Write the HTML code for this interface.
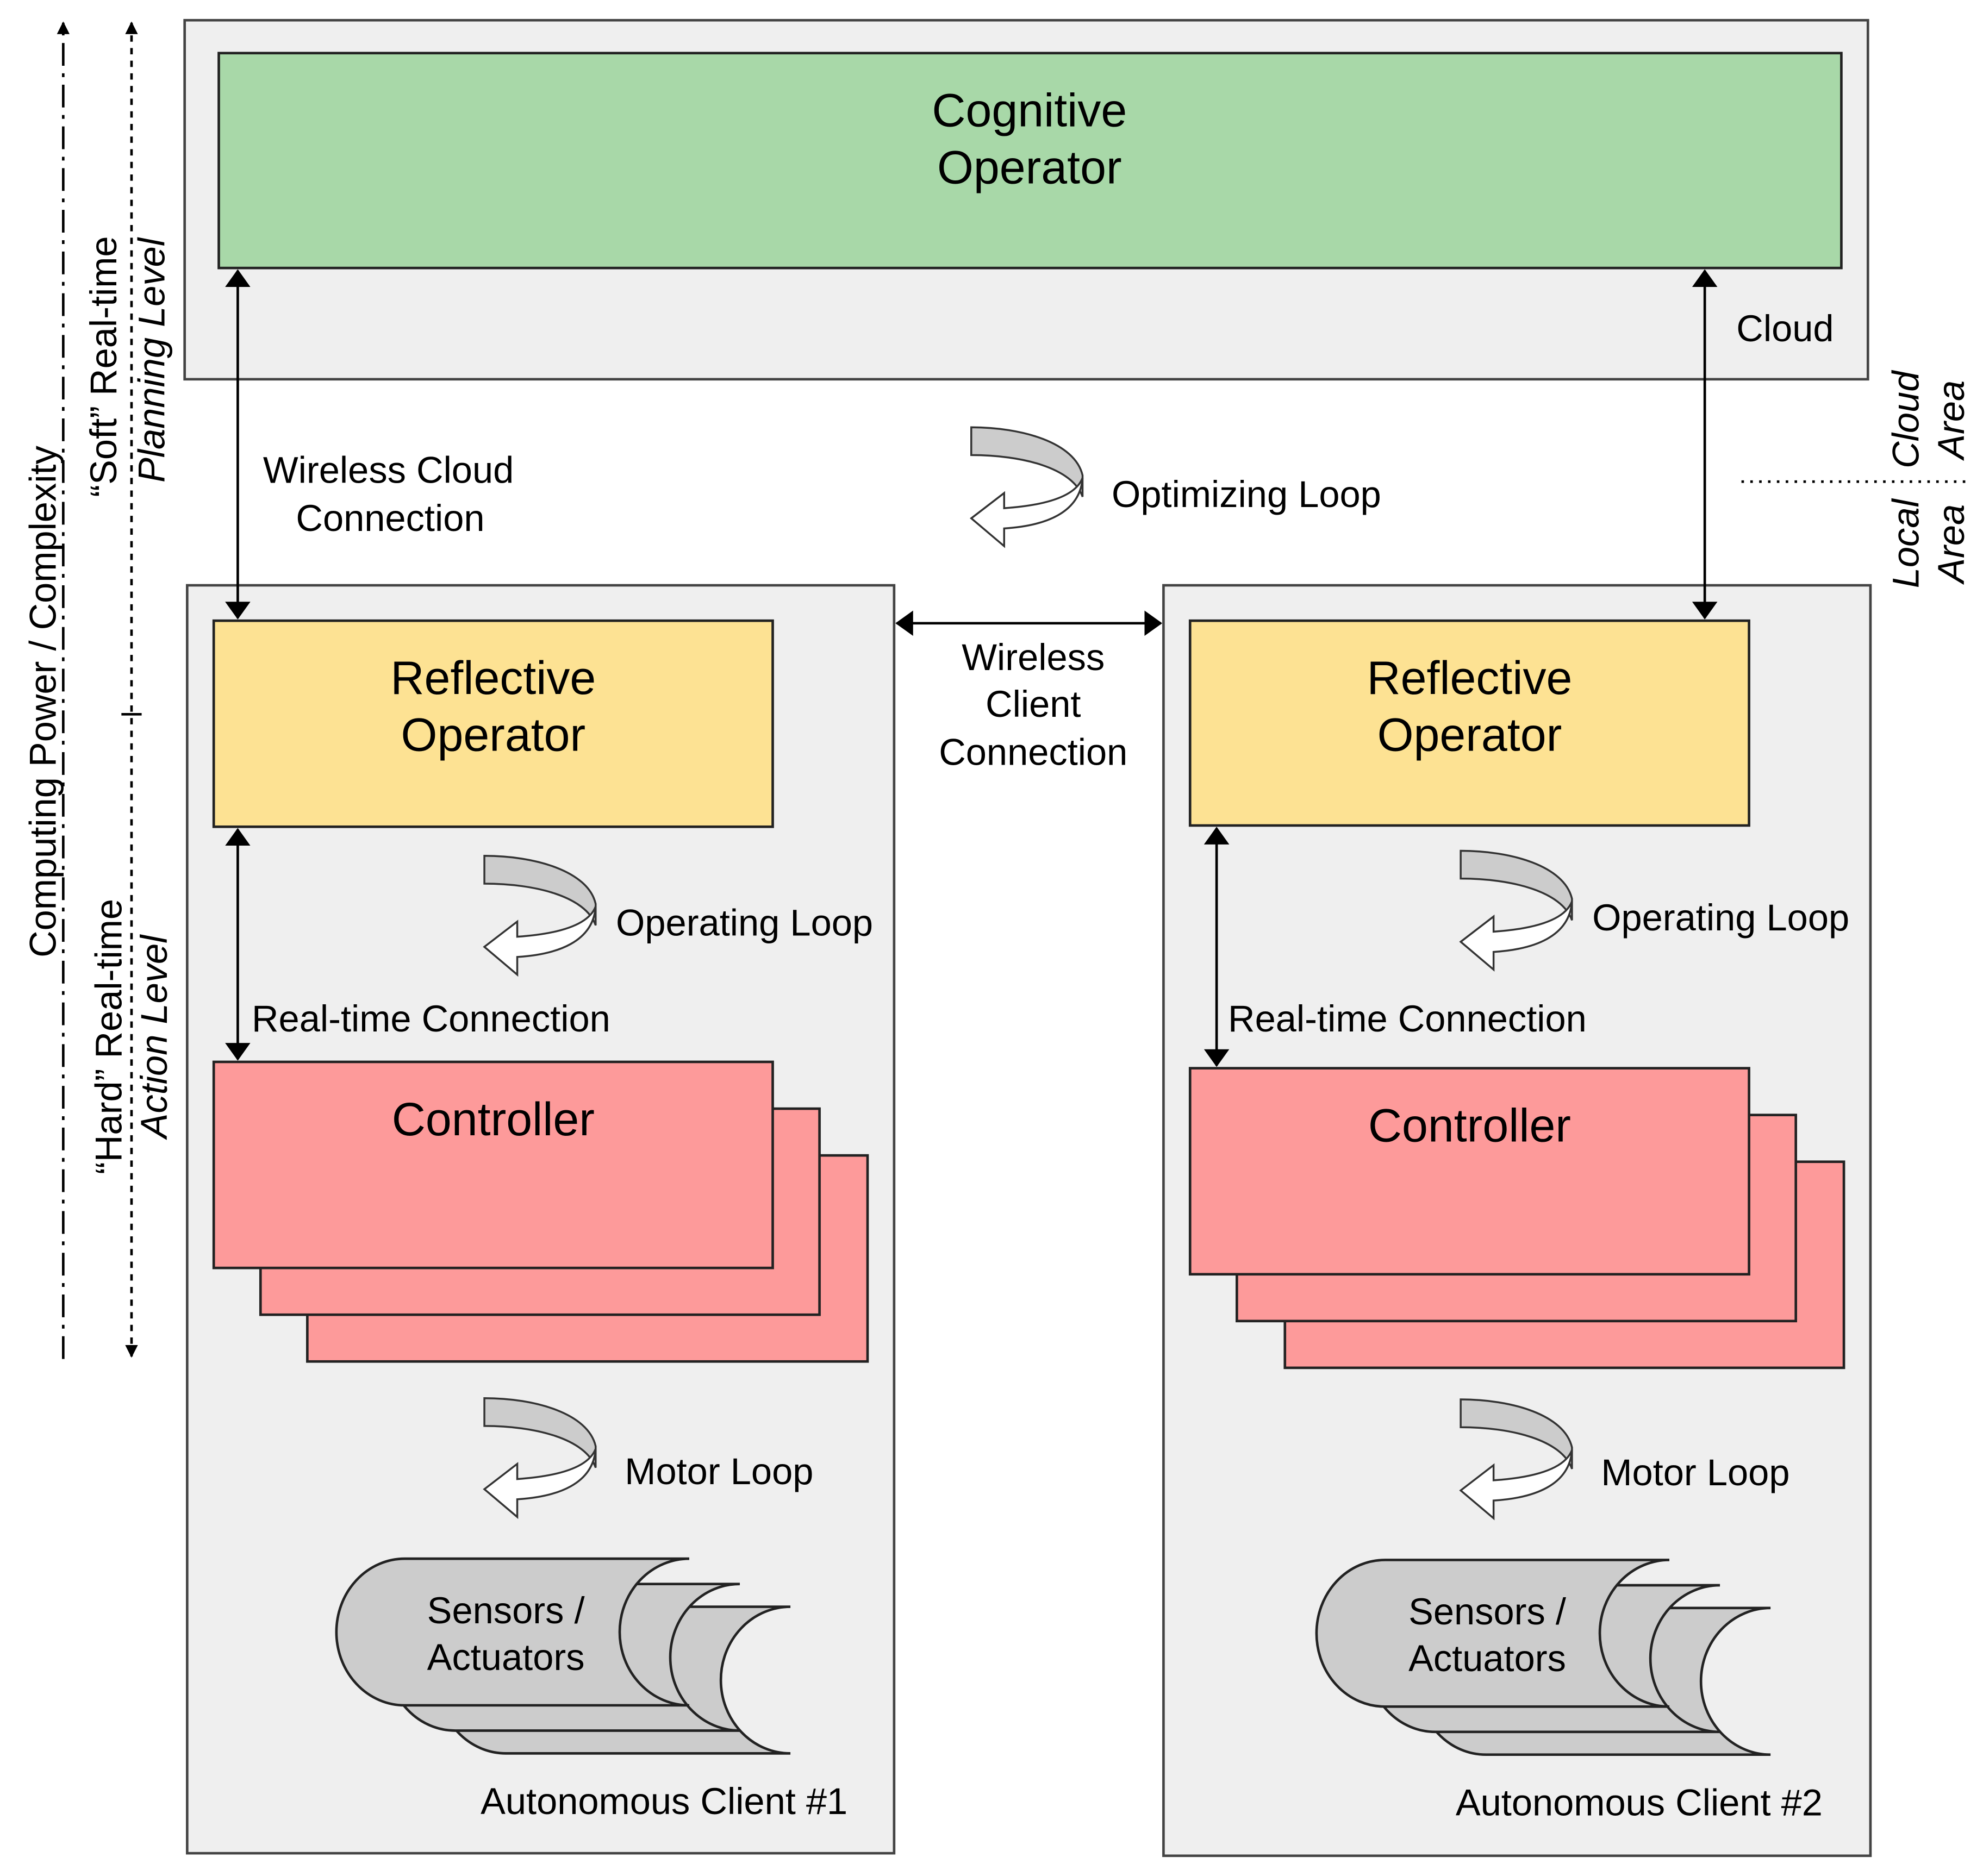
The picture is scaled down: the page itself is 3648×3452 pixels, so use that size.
<!DOCTYPE html>
<html><head><meta charset="utf-8"><style>html,body{margin:0;padding:0;background:#fff}svg{display:block}</style></head><body>
<svg width="3648" height="3452" viewBox="0 0 1568 1484" preserveAspectRatio="none" xmlns="http://www.w3.org/2000/svg" font-family="Liberation Sans, sans-serif">
<defs>
<marker id="a" markerWidth="10" markerHeight="10" refX="9" refY="5" orient="auto-start-reverse" markerUnits="userSpaceOnUse"><path d="M0,0 L10,5 L0,10 Z" fill="#000"/></marker>
<marker id="b" markerWidth="14" markerHeight="20" refX="13" refY="10" orient="auto-start-reverse" markerUnits="userSpaceOnUse"><path d="M0,0 L14,10 L0,20 Z" fill="#000"/></marker>
<g id="loop">
<path d="M0,0 L0,22 C40,22 80,32 88,55 L88,38 C82,12 40,0 0,0 Z" fill="#cccccc" stroke="#333" stroke-width="1.5"/>
<path d="M88,40 C86,68 58,78 26,80 L26,94 L0,72 L26,52 L26,64 C55,62 82,56 88,40 Z" fill="#fff" stroke="#333" stroke-width="1.5"/>
</g>
<g id="cyl">
<path d="M320,0 H545 A55,58 0 0 0 545,116 H320 A54,58 0 0 1 320,0 Z" fill="#cccccc" stroke="#222" stroke-width="2"/>
</g>
</defs>
<rect x="146" y="16" width="1331" height="284" fill="#efefef" stroke="#444" stroke-width="2"/>
<rect x="173" y="42" width="1283" height="170" fill="#a8d8a8" stroke="#222" stroke-width="2"/>
<g font-size="37" text-anchor="middle">
<text x="814" y="100">Cognitive</text>
<text x="814" y="145">Operator</text>
<text x="390" y="549">Reflective</text>
<text x="390" y="594">Operator</text>
<text x="1162" y="549">Reflective</text>
<text x="1162" y="594">Operator</text>
</g>
<text x="1373" y="270" font-size="29.5">Cloud</text>

<rect x="148" y="463" width="559" height="1003" fill="#efefef" stroke="#444" stroke-width="2"/>
<rect x="920" y="463" width="559" height="1005" fill="#efefef" stroke="#444" stroke-width="2"/>

<rect x="169" y="491" width="442" height="163" fill="#fde293" stroke="#222" stroke-width="2" fill-opacity="1"/>
<rect x="941" y="491" width="442" height="162" fill="#fde293" stroke="#222" stroke-width="2"/>
<g font-size="37" text-anchor="middle">
<text x="390" y="549">Reflective</text>
<text x="390" y="594">Operator</text>
<text x="1162" y="549">Reflective</text>
<text x="1162" y="594">Operator</text>
</g>

<rect x="243" y="914" width="443" height="163" fill="#fd9a9a" stroke="#222" stroke-width="2"/>
<rect x="206" y="877" width="442" height="163" fill="#fd9a9a" stroke="#222" stroke-width="2"/>
<rect x="169" y="840" width="442" height="163" fill="#fd9a9a" stroke="#222" stroke-width="2"/>
<text x="390" y="898" font-size="37" text-anchor="middle">Controller</text>
<rect x="1016" y="919" width="442" height="163" fill="#fd9a9a" stroke="#222" stroke-width="2"/>
<rect x="978" y="882" width="442" height="163" fill="#fd9a9a" stroke="#222" stroke-width="2"/>
<rect x="941" y="845" width="442" height="163" fill="#fd9a9a" stroke="#222" stroke-width="2"/>
<text x="1162" y="903" font-size="37" text-anchor="middle">Controller</text>

<g stroke="#000" stroke-width="2" fill="none">
<line x1="188" y1="214" x2="188" y2="489" marker-start="url(#b)" marker-end="url(#b)"/>
<line x1="1348" y1="214" x2="1348" y2="489" marker-start="url(#b)" marker-end="url(#b)"/>
<line x1="188" y1="656" x2="188" y2="838" marker-start="url(#b)" marker-end="url(#b)"/>
<line x1="962" y1="655" x2="962" y2="843" marker-start="url(#b)" marker-end="url(#b)"/>
<line x1="709" y1="493" x2="918" y2="493" marker-start="url(#b)" marker-end="url(#b)"/>
</g>

<g font-size="29.5">
<text x="208" y="382">Wireless Cloud</text>
<text x="234" y="420">Connection</text>
<text x="817" y="530" text-anchor="middle">Wireless</text>
<text x="817" y="567" text-anchor="middle">Client</text>
<text x="817" y="605" text-anchor="middle">Connection</text>
<text x="879" y="401">Optimizing Loop</text>
<text x="487" y="740">Operating Loop</text>
<text x="199" y="816">Real-time Connection</text>
<text x="1259" y="736">Operating Loop</text>
<text x="971" y="816">Real-time Connection</text>
<text x="494" y="1174">Motor Loop</text>
<text x="1266" y="1175">Motor Loop</text>
<text x="380" y="1435">Autonomous Client #1</text>
<text x="1151" y="1436">Autonomous Client #2</text>
</g>

<use href="#loop" x="768" y="338"/>
<use href="#loop" x="383" y="677"/>
<use href="#loop" x="1155" y="673"/>
<use href="#loop" x="383" y="1106"/>
<use href="#loop" x="1155" y="1107"/>

<use href="#cyl" x="80" y="1271"/>
<use href="#cyl" x="40" y="1253"/>
<use href="#cyl" x="0" y="1233"/>
<text x="400" y="1284" font-size="29.5" text-anchor="middle">Sensors /</text>
<text x="400" y="1321" font-size="29.5" text-anchor="middle">Actuators</text>
<use href="#cyl" x="855" y="1272"/>
<use href="#cyl" x="815" y="1254"/>
<use href="#cyl" x="775" y="1234"/>
<text x="1176" y="1285" font-size="29.5" text-anchor="middle">Sensors /</text>
<text x="1176" y="1322" font-size="29.5" text-anchor="middle">Actuators</text>

<g stroke="#000" stroke-width="2" fill="none">
<line x1="50" y1="1075" x2="50" y2="18" stroke-dasharray="18,6,3,6" marker-end="url(#a)"/>
<line x1="104" y1="1073" x2="104" y2="18" stroke-dasharray="5,5" marker-start="url(#a)" marker-end="url(#a)"/>
<line x1="96" y1="565" x2="112" y2="565"/>
<line x1="1377" y1="381" x2="1555" y2="381" stroke-dasharray="2,5"/>
</g>
<g font-size="29.5">
<text transform="translate(44,555) rotate(-90)" text-anchor="middle">Computing Power / Complexity</text>
<text transform="translate(92,290) rotate(-90)" text-anchor="middle">“Soft” Real-time</text>
<text transform="translate(130,285) rotate(-90)" text-anchor="middle" font-style="italic">Planning Level</text>
<text transform="translate(96,820) rotate(-90)" text-anchor="middle">“Hard” Real-time</text>
<text transform="translate(132,820) rotate(-90)" text-anchor="middle" font-style="italic">Action Level</text>
<text transform="translate(1517,332) rotate(-90)" text-anchor="middle" font-style="italic">Cloud</text>
<text transform="translate(1553,332) rotate(-90)" text-anchor="middle" font-style="italic">Area</text>
<text transform="translate(1517,430) rotate(-90)" text-anchor="middle" font-style="italic">Local</text>
<text transform="translate(1553,430) rotate(-90)" text-anchor="middle" font-style="italic">Area</text>
</g>
</svg>
</body></html>
